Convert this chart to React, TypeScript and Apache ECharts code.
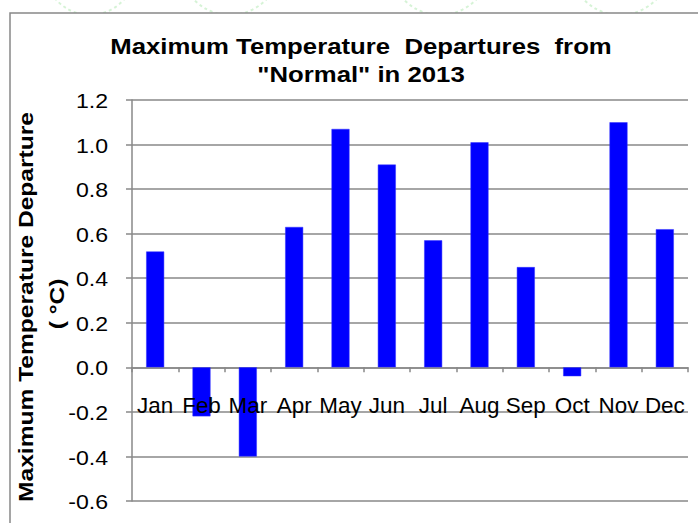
import React, { useEffect, useRef } from "react";
import * as echarts from "echarts";

const months = ["Jan", "Feb", "Mar", "Apr", "May", "Jun", "Jul", "Aug", "Sep", "Oct", "Nov", "Dec"];
const departures = [0.52, -0.22, -0.4, 0.63, 1.07, 0.91, 0.57, 1.01, 0.45, -0.04, 1.1, 0.62];
const yTickValues = [-0.6, -0.4, -0.2, 0.0, 0.2, 0.4, 0.6, 0.8, 1.0, 1.2];
const titleLines = ["Maximum Temperature  Departures  from", "\"Normal\" in 2013"];
const yAxisTitleLines = ["Maximum Temperature Departure", "( °C)"];

const FONT = "'Liberation Sans', Arial, sans-serif";
const STRETCH = 1.17;

export default function App() {
  const ref = useRef<HTMLDivElement>(null);
  useEffect(() => {
    document.body.style.margin = "0";
    const chart = echarts.init(ref.current!, undefined, { renderer: "svg" });
    const gridTop = 100;
    const gridBottom = 22;
    const gridHeight = 523 - gridTop - gridBottom;
    const yMin = -0.6;
    const yMax = 1.2;
    const zeroOffset = -(gridHeight * (0 - yMin)) / (yMax - yMin);
    chart.setOption({
      animation: false,
      backgroundColor: "#ffffff",
      textStyle: { fontFamily: FONT },
      grid: { left: 132, right: 10, top: gridTop, bottom: gridBottom, outerBoundsMode: "none", containLabel: false },
      xAxis: {
        type: "category",
        data: months,
        offset: zeroOffset,
        axisLine: { onZero: false, lineStyle: { color: "#888888", width: 1.5 } },
        axisTick: { show: true, length: 5, lineStyle: { color: "#888888", width: 1.5 } },
        axisLabel: { show: false },
        splitLine: { show: false },
      },
      yAxis: {
        type: "value",
        min: yMin,
        max: yMax,
        interval: 0.2,
        axisLine: { show: true, lineStyle: { color: "#888888", width: 1.5 } },
        axisTick: { show: true, length: 6, lineStyle: { color: "#888888", width: 1.5 } },
        axisLabel: { show: false },
        splitLine: { show: true, lineStyle: { color: "#888888", width: 1.5 } },
      },
      series: [
        {
          type: "bar",
          data: departures,
          barWidth: 18,
          itemStyle: { color: "#0000ff", borderColor: "#3333ff", borderWidth: 0.5 },
        },
      ],
    });

    const deco = (cx: number, cy: number, r: number) => ({
      type: "circle",
      shape: { cx, cy, r },
      style: { fill: "none", stroke: "#d6f3d6", lineWidth: 2, lineDash: [3, 3] },
      silent: true,
      z: -2,
    });

    const elements: any[] = [
      deco(90, -30, 45),
      deco(230, -35, 50),
      deco(440, -35, 50),
      deco(620, -35, 50),
      {
        type: "rect",
        shape: { x: 10, y: 13, width: 720, height: 540 },
        style: { fill: "#ffffff", stroke: "#888888", lineWidth: 1.5 },
        z: -1,
        silent: true,
      },
    ];

    titleLines.forEach((line, i) => {
      elements.push({
        type: "text",
        x: 361,
        y: 46 + i * 28,
        scaleX: STRETCH,
        style: {
          text: line,
          font: `bold 22px ${FONT}`,
          fill: "#000000",
          align: "center",
          verticalAlign: "middle",
        },
        z: 10,
      });
    });

    const yTitlePos = [
      { x: 26, y: 307 },
      { x: 57, y: 304 },
    ];
    yAxisTitleLines.forEach((line, i) => {
      elements.push({
        type: "text",
        x: yTitlePos[i].x,
        y: yTitlePos[i].y,
        rotation: Math.PI / 2,
        scaleX: STRETCH,
        style: {
          text: line,
          font: `bold 21px ${FONT}`,
          fill: "#000000",
          align: "center",
          verticalAlign: "middle",
        },
        z: 10,
      });
    });

    yTickValues.forEach((v) => {
      const py = chart.convertToPixel({ yAxisIndex: 0 }, v) as number;
      elements.push({
        type: "text",
        x: 108,
        y: py + 1,
        scaleX: 1.1,
        style: {
          text: v.toFixed(1),
          font: `21px ${FONT}`,
          fill: "#000000",
          align: "right",
          verticalAlign: "middle",
        },
        z: 10,
      });
    });

    months.forEach((m) => {
      const px = chart.convertToPixel({ xAxisIndex: 0 }, m) as number;
      elements.push({
        type: "text",
        x: px,
        y: 406,
        scaleX: 1.02,
        style: {
          text: m,
          font: `22px ${FONT}`,
          fill: "#000000",
          align: "center",
          verticalAlign: "middle",
        },
        z: 10,
      });
    });

    chart.setOption({ graphic: elements });
    return () => chart.dispose();
  }, []);
  return <div ref={ref} style={{ width: 698, height: 523 }} />;
}
